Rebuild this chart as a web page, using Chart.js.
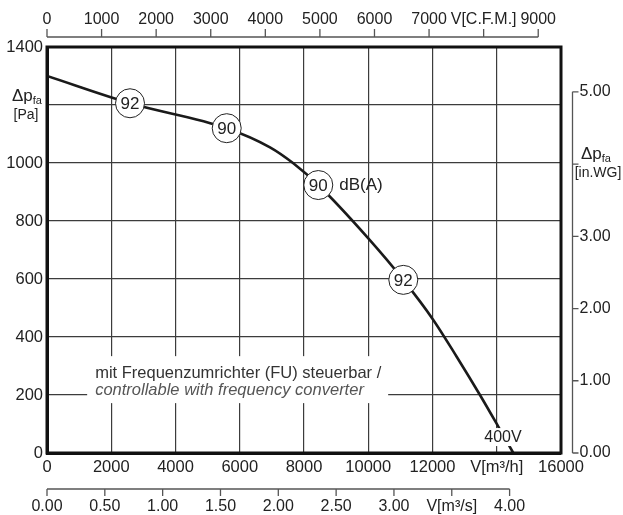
<!DOCTYPE html>
<html>
<head>
<meta charset="utf-8">
<script src="https://cdn.jsdelivr.net/npm/chart.js@4.4.1/dist/chart.umd.min.js"></script>
<style>
  html, body { margin: 0; padding: 0; background: #fff; }
  #wrap { width: 623px; height: 515px; position: relative; }
</style>
</head>
<body>
<div id="wrap"><canvas id="fanChart"></canvas></div>
<script>
// fan curve (m³/h -> Pa)
const flowM3h = [0, 2584, 5594, 6942, 7667, 8445, 10002, 11091, 12025, 12753, 13478, 14048, 14515];
const pressurePa = [1300, 1206, 1120, 1054, 999, 924, 740, 597, 459, 332, 200, 91, 0];

// sound level markers on the curve
const markerFlow = [2584, 5594, 8445, 11091];
const markerPressure = [1206, 1120, 924, 597];
const markerLabels = ["92", "90", "90", "92"];

// main axes
const flowTicks = [0, 2000, 4000, 6000, 8000, 10000, 12000, 14000, 16000];
const flowLabels = ["0", "2000", "4000", "6000", "8000", "10000", "12000", "V[m³/h]", "16000"];
const pressureTicks = [0, 200, 400, 600, 800, 1000, 1200, 1400];
const pressureLabels = ["0", "200", "400", "600", "800", "1000", "", "1400"];

// secondary axes
const cfmTicks = [0, 1000, 2000, 3000, 4000, 5000, 6000, 7000, 8000, 9000];
const cfmLabels = ["0", "1000", "2000", "3000", "4000", "5000", "6000", "7000", "V[C.F.M.]", "9000"];
const m3sTicks = [0, 0.5, 1, 1.5, 2, 2.5, 3, 3.5, 4];
const m3sLabels = ["0.00", "0.50", "1.00", "1.50", "2.00", "2.50", "3.00", "V[m³/s]", "4.00"];
const inwgTicks = [0, 1, 2, 3, 4, 5];
const inwgLabels = ["0.00", "1.00", "2.00", "3.00", "", "5.00"];

const M3H_PER_CFM = 1.699;
const M3H_PER_M3S = 3600;
const PA_PER_INWG = 249.09;

const FONT = '"Liberation Sans", Arial, Helvetica, sans-serif';
const TEXT = "#222";

const canvas = document.getElementById("fanChart");
const ctx = canvas.getContext("2d");

const curvePoints = flowM3h.map((x, i) => ({ x, y: pressurePa[i] }));
const markerPoints = markerFlow.map((x, i) => ({ x, y: markerPressure[i] }));

const overlay = {
  id: "overlay",
  beforeDatasetsDraw(chart) {
    const { ctx, scales: { x, y } } = chart;
    // white box for the note
    const l = x.getPixelForValue(1250), r = x.getPixelForValue(10620);
    const t = y.getPixelForValue(334), b = y.getPixelForValue(172);
    ctx.save();
    ctx.fillStyle = "#fff";
    ctx.fillRect(l, t, r - l, b - t);
    ctx.textBaseline = "middle";
    ctx.textAlign = "left";
    ctx.fillStyle = "#333";
    ctx.font = `16.5px ${FONT}`;
    ctx.fillText("mit Frequenzumrichter (FU) steuerbar /", l + 8, t + 17);
    ctx.fillStyle = "#555";
    ctx.font = `italic 16.5px ${FONT}`;
    ctx.fillText("controllable with frequency converter", l + 8, t + 34);
    ctx.restore();
  },
  afterDatasetsDraw(chart) {
    const { ctx, chartArea: a, scales: { x, y } } = chart;
    ctx.save();
    // frame
    ctx.strokeStyle = "#111";
    ctx.lineWidth = 3;
    ctx.strokeRect(a.left, a.top, a.right - a.left, a.bottom - a.top);

    // marker labels
    ctx.fillStyle = TEXT;
    ctx.font = `17px ${FONT}`;
    ctx.textAlign = "center";
    ctx.textBaseline = "middle";
    const meta = chart.getDatasetMeta(1);
    meta.data.forEach((pt, i) => {
      ctx.fillText(markerLabels[i], pt.x, pt.y + 1);
    });
    const third = meta.data[2];
    ctx.textAlign = "left";
    ctx.fillText("dB(A)", third.x + 21, third.y);

    // 400V label over the curve
    const vx = x.getPixelForValue(14194), vy = y.getPixelForValue(55);
    ctx.font = `16px ${FONT}`;
    const w = ctx.measureText("400V").width;
    ctx.fillStyle = "#fff";
    ctx.fillRect(vx - w / 2 - 1, vy - 9, w + 2, 18);
    ctx.fillStyle = TEXT;
    ctx.textAlign = "center";
    ctx.fillText("400V", vx, vy + 1);
    ctx.restore();
  },
  afterDraw(chart) {
    const { ctx, chartArea: a, scales: { x, y } } = chart;
    ctx.save();
    ctx.strokeStyle = "#555";
    ctx.lineWidth = 1.3;
    ctx.fillStyle = TEXT;
    ctx.font = `16px ${FONT}`;
    ctx.textBaseline = "middle";
    ctx.textAlign = "center";

    // top: C.F.M.
    const topY = a.top - 10;
    const cfmPx = cfmTicks.map((c) => x.getPixelForValue(c * M3H_PER_CFM));
    ctx.beginPath();
    ctx.moveTo(cfmPx[0], topY);
    ctx.lineTo(cfmPx[cfmPx.length - 1], topY);
    cfmPx.forEach((px) => { ctx.moveTo(px, topY); ctx.lineTo(px, topY - 8); });
    ctx.stroke();
    cfmPx.forEach((px, i) => ctx.fillText(cfmLabels[i], px, topY - 17));

    // bottom: m³/s
    const botY = a.bottom + 36;
    const m3sPx = m3sTicks.map((s) => x.getPixelForValue(s * M3H_PER_M3S));
    ctx.beginPath();
    ctx.moveTo(m3sPx[0], botY);
    ctx.lineTo(m3sPx[m3sPx.length - 1], botY);
    m3sPx.forEach((px) => { ctx.moveTo(px, botY); ctx.lineTo(px, botY + 7); });
    ctx.stroke();
    m3sPx.forEach((px, i) => ctx.fillText(m3sLabels[i], px, botY + 18));

    // right: in.WG
    const rx = a.right + 11.5;
    const wgPx = inwgTicks.map((v) => y.getPixelForValue(v * PA_PER_INWG));
    ctx.beginPath();
    ctx.moveTo(rx, wgPx[0]);
    ctx.lineTo(rx, wgPx[wgPx.length - 1]);
    wgPx.forEach((py) => { ctx.moveTo(rx, py); ctx.lineTo(rx + 6, py); });
    ctx.stroke();
    ctx.textAlign = "left";
    wgPx.forEach((py, i) => ctx.fillText(inwgLabels[i], rx + 7, py));

    // axis titles
    const drawDp = (left, cy, unit, unitX) => {
      ctx.textAlign = "left";
      ctx.font = `17px ${FONT}`;
      ctx.fillText("Δp", left, cy);
      const wd = ctx.measureText("Δp").width;
      ctx.font = `11px ${FONT}`;
      ctx.fillText("fa", left + wd, cy + 5);
      ctx.font = `14px ${FONT}`;
      ctx.textAlign = "center";
      ctx.fillText(unit, unitX, cy + 19);
    };
    drawDp(12, 96, "[Pa]", 26);
    drawDp(581, 154, "[in.WG]", 598);
    ctx.restore();
  },
};

new Chart(ctx, {
  type: "scatter",
  data: {
    datasets: [
      {
        label: "Kennlinie 400V",
        data: curvePoints,
        showLine: true,
        borderColor: "#1a1a1a",
        borderWidth: 2.6,
        pointRadius: 0,
        cubicInterpolationMode: "monotone",
        order: 1,
      },
      {
        label: "dB(A)",
        data: markerPoints,
        showLine: false,
        pointRadius: 14.5,
        pointBackgroundColor: "#fff",
        pointBorderColor: "#222",
        pointBorderWidth: 1,
        order: 0,
      },
    ],
  },
  options: {
    responsive: true,
    maintainAspectRatio: false,
    animation: false,
    layout: { padding: { top: 47, right: 62, left: 0, bottom: 0 } },
    plugins: {
      legend: { display: false },
      tooltip: { enabled: false },
    },
    scales: {
      x: {
        type: "linear",
        min: 0,
        max: 16000,
        afterBuildTicks: (s) => { s.ticks = flowTicks.map((v) => ({ value: v })); },
        afterFit: (s) => { s.height = 62; },
        ticks: {
          callback: (v) => flowLabels[flowTicks.indexOf(v)],
          color: TEXT,
          font: { family: FONT, size: 16.5 },
          padding: 5,
          maxRotation: 0,
          autoSkip: false,
        },
        grid: { color: "#3c3c3c", lineWidth: 1.2, drawTicks: false },
        border: { color: "#111", width: 3 },
      },
      y: {
        type: "linear",
        min: 0,
        max: 1400,
        afterBuildTicks: (s) => { s.ticks = pressureTicks.map((v) => ({ value: v })); },
        afterFit: (s) => { s.width = 47; },
        ticks: {
          callback: (v) => pressureLabels[pressureTicks.indexOf(v)],
          color: TEXT,
          font: { family: FONT, size: 16.5 },
          padding: 4,
          autoSkip: false,
        },
        grid: { color: "#3c3c3c", lineWidth: 1.2, drawTicks: false },
        border: { color: "#111", width: 3 },
      },
    },
  },
  plugins: [overlay],
});
</script>
</body>
</html>
